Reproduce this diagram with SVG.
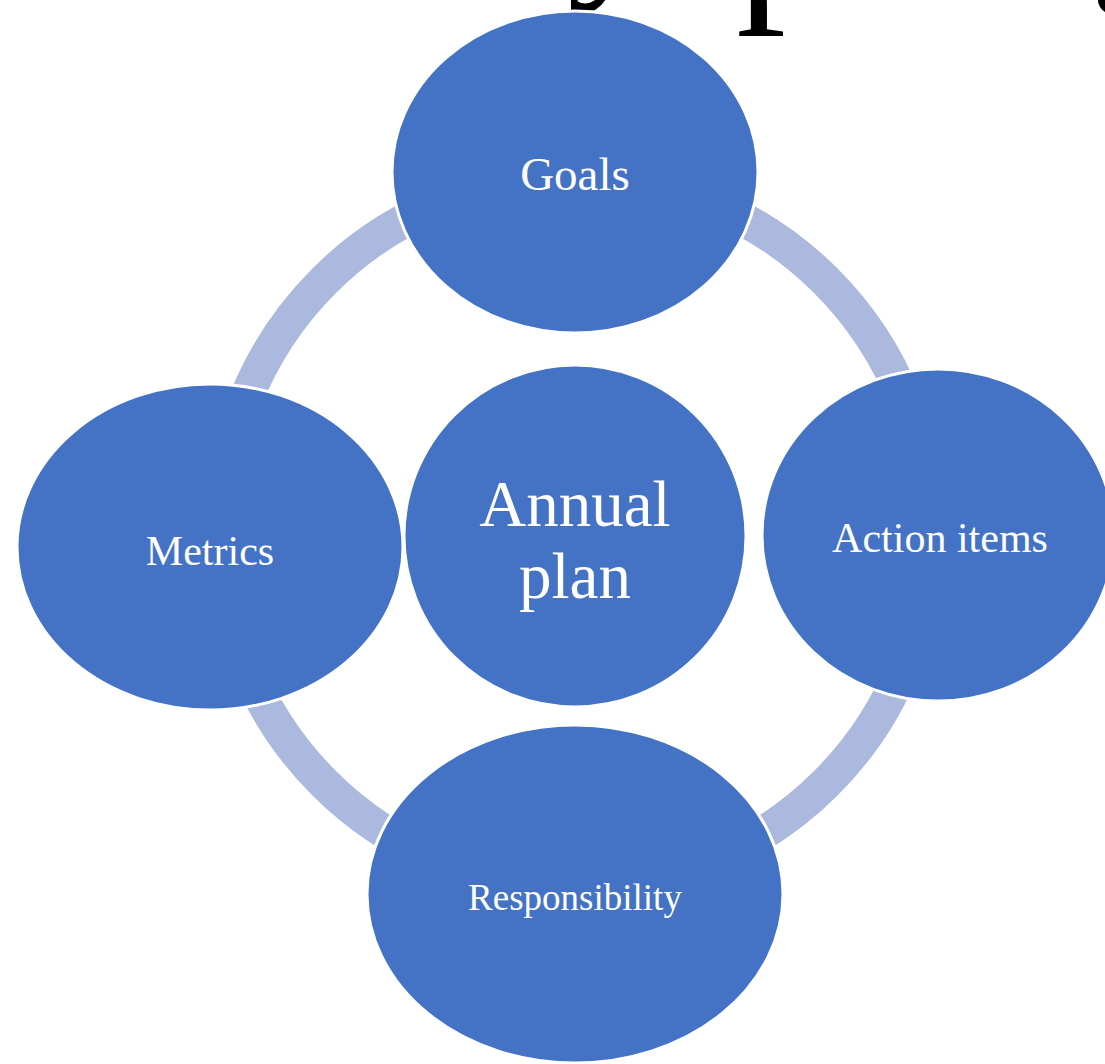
<svg xmlns="http://www.w3.org/2000/svg" width="1105" height="1064" viewBox="0 0 1105 1064">
<style>
.node{fill:#4472C4;stroke:#FFFFFF;stroke-width:3}
.lbl{font-family:"Liberation Serif","Times New Roman",serif;fill:#FFFFFF;text-anchor:middle}
.title{font-family:"Liberation Serif","Times New Roman",serif;fill:#000000;font-size:180px}
</style>
<rect width="1105" height="1064" fill="#FFFFFF"/>
<text class="title"><tspan x="567" y="-26">y</tspan><tspan x="736" y="-6" font-size="200">p</tspan><tspan x="1090" y="-20">g</tspan></text>
<g id="connectors">
<circle cx="575" cy="532" r="355" fill="none" stroke="#ABB9DF" stroke-width="34"/>
</g>
<g id="node-goals">
<ellipse class="node" cx="575" cy="172" rx="183" ry="161"/>
<text class="lbl" x="575" y="190" font-size="47">Goals</text>
</g>
<g id="node-action">
<ellipse class="node" cx="938" cy="535" rx="176" ry="166"/>
<text class="lbl" x="940" y="552" font-size="42">Action items</text>
</g>
<g id="node-responsibility">
<ellipse class="node" cx="575" cy="894" rx="208" ry="169"/>
<text class="lbl" x="575" y="910" font-size="37">Responsibility</text>
</g>
<g id="node-metrics">
<ellipse class="node" cx="210" cy="547" rx="193" ry="163"/>
<text class="lbl" x="210" y="565" font-size="42">Metrics</text>
</g>
<g id="node-center">
<circle class="node" cx="575" cy="536" r="171"/>
<text class="lbl" x="575" y="526" font-size="65">Annual</text>
<text class="lbl" x="575" y="598" font-size="65">plan</text>
</g>
</svg>
